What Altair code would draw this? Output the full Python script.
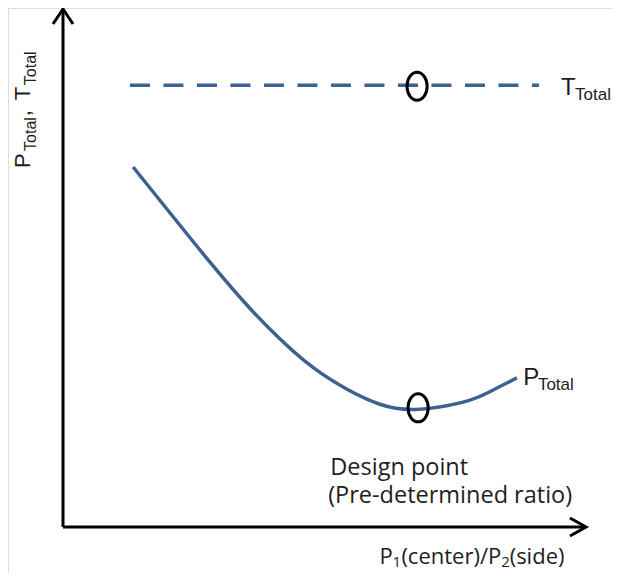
import altair as alt
import pandas as pd

# ---- data (schematic units: both axes run 0..10) ----
# P_Total curve
p_x = [1.34, 2.24, 2.87, 3.52, 4.15, 4.78, 5.43, 6.06, 6.75, 7.65, 8.16, 8.68]
p_y = [6.95, 5.82, 5.04, 4.28, 3.63, 3.08, 2.66, 2.37, 2.27, 2.41, 2.61, 2.88]
# T_Total (flat)
t_x = [1.28, 9.10]
t_y = [8.53, 8.53]
# design point markers
d_x = [6.77, 6.79]
d_y = [8.51, 2.30]
# axis ends
axis_x0 = [0, 0]
axis_y0 = [0, 0]
axis_x1 = [10, 0]
axis_y1 = [0, 10]

# annotation texts
sans_text = ["T", "Total", "P", "Total", "P", "Total", ",", "T", "Total"]
sans_x = [9.52, 9.79, 8.80, 9.08, -0.63, -0.52, -0.63, -0.63, -0.52]
sans_y = [8.34, 8.24, 2.74, 2.64, 6.93, 7.26, 7.93, 8.24, 8.53]
sans_size = [24, 17, 24, 17, 22, 16, 22, 22, 16]
sans_angle = [0, 0, 0, 0, 270, 270, 270, 270, 270]

ui_text = ["Design point", "(Pre-determined ratio)", "P", "1", "(center)/P", "2", "(side)"]
ui_x = [5.11, 5.07, 6.05, 6.30, 6.47, 8.38, 8.54]
ui_y = [1.01, 0.463, -0.714, -0.772, -0.714, -0.772, -0.714]
ui_size = [23.5, 23.5, 22, 15, 22, 15, 22]

LINE = "#3d6191"
INK = "#1e1e1e"

xs = alt.Scale(domain=[0, 10], range=[55, 578], nice=False, zero=False)
ys = alt.Scale(domain=[0, 10], range=[519, 1], nice=False, zero=False)

def X(f="x"):
    return alt.X(f"{f}:Q", scale=xs, axis=None)

def Y(f="y"):
    return alt.Y(f"{f}:Q", scale=ys, axis=None)

axes_df = pd.DataFrame({"x": axis_x0, "y": axis_y0, "x2": axis_x1, "y2": axis_y1})
axes = alt.Chart(axes_df).mark_rule(color="black", strokeWidth=3).encode(
    x=X(), y=Y(), x2="x2:Q", y2="y2:Q"
)

tip_r = pd.DataFrame({"x": [axis_x1[0]], "y": [axis_y1[0]]})
tip_u = pd.DataFrame({"x": [axis_x1[1]], "y": [axis_y1[1]]})
arrow_r = alt.Chart(tip_r).mark_point(
    shape="M -1.6 -0.9 L 0 0 L -1.6 0.9", size=400, filled=False,
    stroke="black", strokeWidth=3, opacity=1, strokeJoin="miter"
).encode(x=X(), y=Y())
arrow_u = alt.Chart(tip_u).mark_point(
    shape="M -1 1.5 L 0 0 L 1 1.5", size=400, filled=False,
    stroke="black", strokeWidth=3, opacity=1, strokeJoin="miter"
).encode(x=X(), y=Y())

t_df = pd.DataFrame({"x": t_x, "y": t_y})
t_line = alt.Chart(t_df).mark_line(
    color=LINE, strokeWidth=3.5, strokeDash=[20, 13.5]
).encode(x=X(), y=Y())

p_df = pd.DataFrame({"x": p_x, "y": p_y})
p_line = alt.Chart(p_df).mark_line(
    color=LINE, strokeWidth=3.5, interpolate="natural"
).encode(x=X(), y=Y())

ellipse = "M 0 -1 A 0.72 1 0 1 1 0 1 A 0.72 1 0 1 1 0 -1 Z"
d_df = pd.DataFrame({"x": d_x, "y": d_y})
marks = alt.Chart(d_df).mark_point(
    shape=ellipse, size=784, filled=False, stroke="black",
    strokeWidth=3, opacity=1
).encode(x=X(), y=Y())

sans_df = pd.DataFrame({"t": sans_text, "x": sans_x, "y": sans_y,
                        "s": sans_size, "a": sans_angle})
sans = alt.Chart(sans_df).mark_text(
    font="Liberation Sans", align="left", baseline="alphabetic", color=INK
).encode(
    x=X(), y=Y(), text="t:N",
    size=alt.Size("s:Q", scale=None, legend=None),
    angle=alt.Angle("a:Q", scale=None),
)

ui_df = pd.DataFrame({"t": ui_text, "x": ui_x, "y": ui_y, "s": ui_size})
ui = alt.Chart(ui_df).mark_text(
    font="Open Sans", align="left", baseline="alphabetic", color=INK
).encode(
    x=X(), y=Y(), text="t:N",
    size=alt.Size("s:Q", scale=None, legend=None),
)

chart = alt.layer(axes, arrow_r, arrow_u, t_line, p_line, marks, sans, ui).properties(
    width=604, height=565, padding=0, autosize=alt.AutoSizeParams(type="none")
).configure_view(stroke=None).configure(background="white")

chart.save("out.html", embed_options={"renderer": "svg", "actions": False})
